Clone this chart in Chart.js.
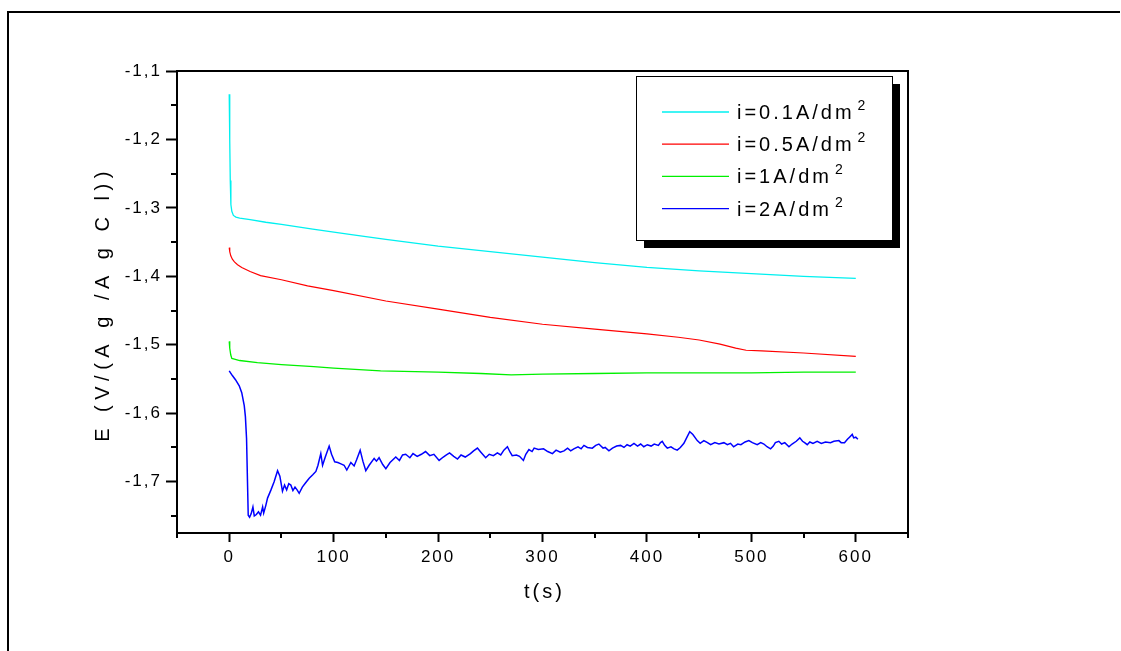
<!DOCTYPE html>
<html>
<head>
<meta charset="utf-8">
<title>E vs t</title>
<script src="https://cdn.jsdelivr.net/npm/chart.js@4.4.1/dist/chart.umd.min.js"></script>
<style>
    html, body { margin: 0; padding: 0; background: #fff; overflow: hidden; }
    #wrap { position: relative; width: 1121px; height: 651px; }
    #frame { position: absolute; left: 7px; top: 11px; right: 1px; bottom: -4px;
             border-left: 2px solid #000; border-top: 2px solid #000; }
    #plot { position: absolute; left: 0; top: 0; }
</style>
</head>
<body>
<div id="wrap">
    <div id="frame"></div>
    <canvas id="plot" width="1121" height="651"></canvas>
</div>
<script>
// axis ranges and tick labels
const xMin = -50, xMax = 650;
const yMin = -1.775, yMax = -1.1;
const xTicks = [0, 100, 200, 300, 400, 500, 600];
const xMinorTicks = [-50, 50, 150, 250, 350, 450, 550, 650];
const yTicks = [-1.1, -1.2, -1.3, -1.4, -1.5, -1.6, -1.7];
const yMinorTicks = [-1.15, -1.25, -1.35, -1.45, -1.55, -1.65, -1.75];

const seriesLabels = ['i=0.1A/dm²', 'i=0.5A/dm²', 'i=1A/dm²', 'i=2A/dm²'];

// i = 0.1 A/dm2
const t01 = [0, 0.5, 1, 1.6, 2.5, 4, 6.4, 10, 20, 35, 50, 80, 117, 150, 200, 250, 300, 350, 400, 450, 500, 550, 600];
const e01 = [-1.134, -1.2, -1.26, -1.295, -1.305, -1.311, -1.3135, -1.315, -1.317, -1.321, -1.324, -1.331, -1.339,
             -1.346, -1.356, -1.364, -1.372, -1.38, -1.387, -1.392, -1.396, -1.4, -1.403];

// i = 0.5 A/dm2
const t05 = [0, 0.5, 1.5, 3, 5, 8, 12, 20, 30, 50, 75, 100, 150, 200, 250, 300, 350, 400, 430, 450, 470, 485, 495, 510, 550, 600];
const e05 = [-1.358, -1.364, -1.37, -1.375, -1.379, -1.383, -1.387, -1.393, -1.399, -1.405, -1.414, -1.421, -1.436,
             -1.448, -1.46, -1.47, -1.477, -1.484, -1.489, -1.493, -1.499, -1.505, -1.508, -1.509, -1.512, -1.517];

// i = 1 A/dm2
const t1 = [0, 0.5, 1.5, 2.5, 5, 10, 27, 50, 81, 100, 145, 200, 241, 270, 300, 350, 400, 450, 500, 550, 600];
const e1 = [-1.495, -1.505, -1.515, -1.52, -1.521, -1.523, -1.526, -1.529, -1.532, -1.534, -1.538, -1.54, -1.542,
            -1.544, -1.543, -1.542, -1.541, -1.541, -1.541, -1.54, -1.54];

// i = 2 A/dm2
const t2 = [0, 3, 6, 9.6, 12, 14.4, 15.5, 16.6, 17.5, 18.2, 19.5, 21, 22.7, 24, 26, 28, 30, 32, 33, 35,
            36.7, 40, 43, 46.3, 48.5, 51, 53, 55, 57, 59, 61, 63, 65, 67, 70, 73, 76.6, 80, 83, 85,
            87.7, 89.4, 92, 95.7, 98, 101, 104, 107, 110, 112.6, 116.5, 119.6, 122, 125.4, 128, 130.8, 134, 138.8, 141, 143.5,
            147, 150, 154, 159.5, 163, 166, 169, 173, 176, 180, 184, 188, 192, 196, 201, 205, 208, 211, 215, 218.6,
            222, 226, 231, 234, 237.7, 241, 245.6, 249, 253, 256.8, 260, 263, 266.4, 269, 271, 275, 278, 281.7, 284, 287,
            290, 292, 296, 301, 305, 309.5, 313, 317, 320.6, 324, 327, 330, 334, 337, 339.7, 343, 347.7, 351, 354, 358,
            360, 363.6, 367, 371, 374.8, 378, 381, 384, 387.6, 391, 394, 397, 400.4, 404, 407, 411, 413, 414.7, 417, 419.5,
            423, 426, 429, 432, 435.4, 438, 441, 444, 448.2, 451, 454.5, 458, 461, 465, 469, 473.7, 477, 480, 483, 487,
            490, 494, 497.6, 501, 505.6, 509, 512, 515, 518.4, 521, 523, 526.3, 529, 532, 536, 539, 543, 546.4, 549, 551,
            553.5, 556, 559, 563, 567, 571, 575.8, 579, 583.8, 586, 589.2, 592, 594, 596.6, 598, 600, 602];
const e2 = [-1.538, -1.545, -1.551, -1.56, -1.57, -1.589, -1.605, -1.637, -1.7, -1.749, -1.752, -1.747, -1.737, -1.75, -1.748, -1.744, -1.749, -1.737, -1.746, -1.735,
            -1.724, -1.712, -1.7, -1.684, -1.692, -1.714, -1.705, -1.712, -1.703, -1.705, -1.713, -1.708, -1.712, -1.717, -1.708, -1.702, -1.695, -1.69, -1.685, -1.676,
            -1.659, -1.676, -1.664, -1.648, -1.66, -1.671, -1.672, -1.674, -1.676, -1.683, -1.672, -1.677, -1.668, -1.654, -1.67, -1.684, -1.676, -1.666, -1.67, -1.665,
            -1.675, -1.681, -1.672, -1.664, -1.669, -1.661, -1.66, -1.665, -1.659, -1.663, -1.66, -1.656, -1.662, -1.66, -1.669, -1.664, -1.661, -1.658, -1.663, -1.667,
            -1.661, -1.664, -1.659, -1.655, -1.651, -1.657, -1.665, -1.66, -1.662, -1.658, -1.661, -1.654, -1.649, -1.657, -1.662, -1.661, -1.663, -1.669, -1.66, -1.653,
            -1.656, -1.651, -1.653, -1.652, -1.656, -1.659, -1.654, -1.657, -1.655, -1.651, -1.655, -1.652, -1.649, -1.652, -1.647, -1.65, -1.651, -1.647, -1.645, -1.651,
            -1.65, -1.655, -1.651, -1.648, -1.647, -1.65, -1.646, -1.648, -1.644, -1.648, -1.645, -1.649, -1.646, -1.648, -1.645, -1.647, -1.643, -1.641, -1.647, -1.651,
            -1.649, -1.652, -1.654, -1.65, -1.644, -1.636, -1.627, -1.631, -1.64, -1.644, -1.64, -1.643, -1.646, -1.643, -1.645, -1.643, -1.646, -1.644, -1.649, -1.645,
            -1.646, -1.642, -1.64, -1.643, -1.646, -1.643, -1.645, -1.649, -1.652, -1.648, -1.643, -1.641, -1.645, -1.643, -1.649, -1.645, -1.641, -1.636, -1.641, -1.643,
            -1.646, -1.642, -1.644, -1.641, -1.644, -1.642, -1.643, -1.641, -1.64, -1.643, -1.643, -1.638, -1.635, -1.631, -1.636, -1.635, -1.638];

const FONT = '"Liberation Sans", Arial, sans-serif';

function toPoints(ts, vs) {
    return ts.map((t, i) => ({ x: t, y: vs[i] }));
}

function series(label, ts, vs, color, width) {
    return {
        label: label,
        data: toPoints(ts, vs),
        borderColor: color,
        backgroundColor: color,
        borderWidth: width,
        pointRadius: 0,
        tension: 0,
        fill: false
    };
}

// minor ticks, top/right frame, axis titles and the shadowed legend
const framePlugin = {
    id: 'framePlugin',
    beforeDraw(chart) {
        chart.ctx.letterSpacing = '2px';
    },
    afterDraw(chart) {
        const ctx = chart.ctx;
        const area = chart.chartArea;
        const xs = chart.scales.x, ys = chart.scales.y;
        ctx.save();
        ctx.letterSpacing = '0px';
        ctx.strokeStyle = '#000';

        // top and right edges of the plot box
        ctx.lineWidth = 2;
        ctx.beginPath();
        ctx.moveTo(area.left, area.top);
        ctx.lineTo(area.right, area.top);
        ctx.lineTo(area.right, area.bottom);
        ctx.stroke();

        // minor ticks
        ctx.lineWidth = 2;
        ctx.beginPath();
        xMinorTicks.forEach(v => {
            const px = Math.round(xs.getPixelForValue(v));
            ctx.moveTo(px, area.bottom);
            ctx.lineTo(px, area.bottom + 5);
        });
        yMinorTicks.forEach(v => {
            const py = Math.round(ys.getPixelForValue(v));
            ctx.moveTo(area.left, py);
            ctx.lineTo(area.left - 6, py);
        });
        ctx.stroke();

        // axis titles
        ctx.fillStyle = '#000';
        ctx.font = '20px ' + FONT;
        ctx.letterSpacing = '3px';
        ctx.textAlign = 'center';
        ctx.textBaseline = 'middle';
        ctx.fillText('t(s)', (area.left + area.right) / 2 + 2, 592);

        ctx.save();
        ctx.translate(103, (area.top + area.bottom) / 2 + 2);
        ctx.rotate(-Math.PI / 2);
        ctx.letterSpacing = '5.5px';
        ctx.fillText('E (V/(A g /A g C l))', 0, 0);
        ctx.restore();

        // legend box with drop shadow
        const bx = 636, by = 76, bw = 256, bh = 164, sh = 8;
        ctx.fillStyle = '#000';
        ctx.fillRect(bx + sh, by + sh, bw, bh);
        ctx.fillStyle = '#fff';
        ctx.fillRect(bx, by, bw, bh);
        ctx.lineWidth = 1;
        ctx.strokeRect(bx + 0.5, by + 0.5, bw, bh);

        ctx.textAlign = 'left';
        ctx.textBaseline = 'alphabetic';
        chart.data.datasets.forEach((ds, i) => {
            const rowY = 112 + i * 32.2;
            ctx.strokeStyle = ds.borderColor;
            ctx.lineWidth = 1.3;
            ctx.beginPath();
            ctx.moveTo(662, rowY);
            ctx.lineTo(729, rowY);
            ctx.stroke();

            const main = ds.label.replace('²', '');
            ctx.fillStyle = '#000';
            ctx.font = '20px ' + FONT;
            ctx.letterSpacing = '3px';
            ctx.fillText(main, 737, rowY + 7);
            const w = ctx.measureText(main).width;
            ctx.font = '14px ' + FONT;
            ctx.letterSpacing = '0px';
            ctx.fillText('2', 737 + w + 3, rowY - 2);
        });
        ctx.restore();
    }
};

const ctx = document.getElementById('plot');
new Chart(ctx, {
    type: 'line',
    data: {
        datasets: [
            series(seriesLabels[0], t01, e01, '#00f0f0', 1.3),
            series(seriesLabels[1], t05, e05, '#ff0000', 1.2),
            series(seriesLabels[2], t1, e1, '#00f000', 1.3),
            series(seriesLabels[3], t2, e2, '#0000ff', 1.5)
        ]
    },
    options: {
        responsive: false,
        animation: false,
        layout: { padding: { top: 71, right: 213, bottom: 0, left: 0 } },
        plugins: {
            legend: { display: false },
            tooltip: { enabled: false }
        },
        scales: {
            x: {
                type: 'linear',
                min: xMin,
                max: xMax,
                afterBuildTicks: s => { s.ticks = xTicks.map(v => ({ value: v })); },
                afterFit: s => { s.height = 118; },
                border: { display: true, color: '#000', width: 2 },
                grid: { drawOnChartArea: false, drawTicks: true, tickLength: 9, tickWidth: 2, tickColor: '#000' },
                ticks: {
                    color: '#000',
                    font: { family: FONT, size: 17 },
                    padding: 5,
                    maxRotation: 0,
                    autoSkip: false,
                    callback: v => String(v)
                }
            },
            y: {
                type: 'linear',
                min: yMin,
                max: yMax,
                afterBuildTicks: s => { s.ticks = yTicks.map(v => ({ value: v })); },
                afterFit: s => { s.width = 177; },
                border: { display: true, color: '#000', width: 2 },
                grid: { drawOnChartArea: false, drawTicks: true, tickLength: 11, tickWidth: 2, tickColor: '#000' },
                ticks: {
                    color: '#000',
                    font: { family: FONT, size: 17 },
                    padding: 4,
                    autoSkip: false,
                    callback: v => v.toFixed(1).replace('.', ',')
                }
            }
        }
    },
    plugins: [framePlugin]
});
</script>
</body>
</html>
